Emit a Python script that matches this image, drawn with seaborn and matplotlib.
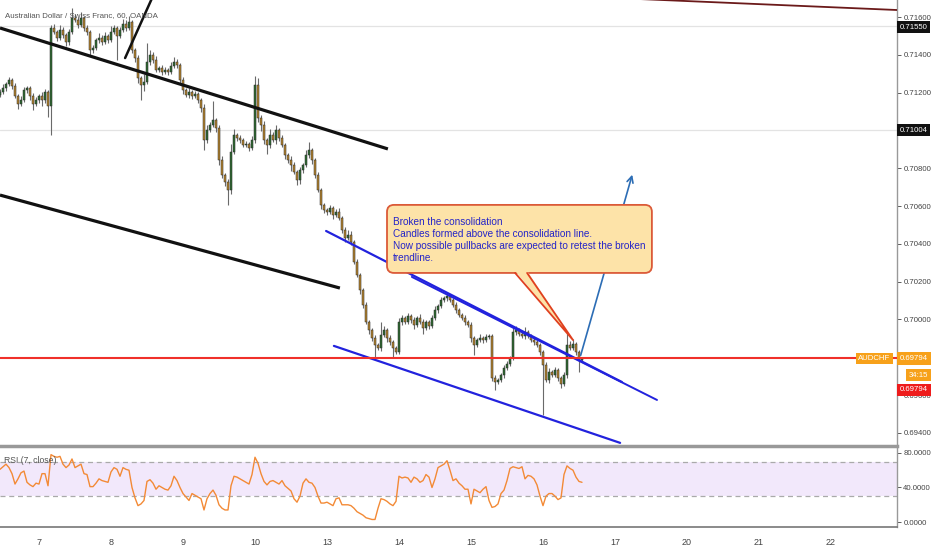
import numpy as np
import pandas as pd
import matplotlib
matplotlib.use("Agg")
import matplotlib.pyplot as plt
import matplotlib.transforms as mtransforms
from matplotlib.patches import FancyBboxPatch, Polygon
import seaborn as sns

sns.set_theme(style="white")
plt.rcParams["font.family"] = ["Liberation Sans", "DejaVu Sans"]

# AUDCHF 60 min, prices in points (1e-5), one row per hour, first bar 13h before the 7th
first_bar = -13
first_open = 71190
closes = [
    71203, 71224, 71246, 71267, 71235, 71182, 71140, 71161, 71214, 71224, 71182, 71140, 71161,
    # 7
    71182, 71161, 71203, 71129, 71542, 71521, 71489, 71531, 71505, 71468, 71521, 71595,
    71584, 71558, 71595, 71542, 71521, 71425, 71436, 71478, 71489, 71468, 71500, 71478,
    # 8
    71521, 71542, 71500, 71531, 71563, 71542, 71574, 71425, 71383, 71277, 71240, 71256,
    71362, 71399, 71373, 71320, 71330, 71309, 71320, 71309, 71341, 71362, 71346, 71267,
    # 9
    71214, 71187, 71203, 71182, 71193, 71161, 71119, 70949, 71002, 71029, 71055, 71013,
    70844, 70764, 70727, 70685, 70886, 70976, 70960, 70949, 70923, 70928, 70907, 70949,
    # 10
    71240, 71066, 71029, 70949, 70923, 70976, 70949, 71002, 70960, 70923, 70870, 70844,
    70817, 70780, 70738, 70791, 70817, 70870, 70896, 70844, 70764, 70685, 70606, 70579,
    # 13
    70569, 70590, 70553, 70569, 70537, 70473, 70431, 70447, 70410, 70304, 70235, 70156,
    70077, 69987, 69944, 69902, 69865, 69849, 69918, 69944, 69902, 69881, 69849, 69828,
    # 14
    69987, 70008, 69987, 70018, 69997, 69971, 70008, 69987, 69955, 69987, 69965, 70008,
    70050, 70071, 70103, 70114, 70124, 70103, 70077, 70050, 70024, 70008, 69987, 69971,
    # 15
    69902, 69865, 69891, 69902, 69891, 69907, 69913, 69690, 69669, 69680, 69706, 69743,
    69764, 69796, 69934, 69944, 69923, 69913, 69934, 69913, 69891, 69881, 69865, 69828,
    # 16
    69759, 69680, 69722, 69706, 69733, 69690, 69659, 69706, 69865, 69849, 69870, 69828,
    69786, 69794,
]
wick_up = [
    15, 20, 12, 18, 10, 14, 12, 20, 16, 10, 12, 15, 18,
    12, 20, 15, 10, 16, 20, 12, 25, 15, 10, 18, 53, 20, 15, 30, 12, 15, 10, 18, 12, 25, 15, 20, 12,
    30, 15, 12, 18, 25, 20, 30, 12, 10, 15, 10, 45, 100, 26, 15, 20, 12, 15, 18, 12, 20, 25, 15, 10,
    15, 12, 20, 10, 15, 12, 10, 20, 25, 15, 100, 12, 15, 20, 10, 15, 40, 30, 12, 15, 10, 15, 12, 20,
    48, 37, 15, 20, 12, 30, 15, 25, 12, 15, 10, 12, 20, 15, 10, 18, 12, 25, 43, 12, 10, 15, 12, 10,
    12, 18, 10, 15, 20, 12, 15, 25, 20, 12, 15, 10, 12, 15, 10, 12, 15, 10, 70, 20, 12, 15, 10, 12,
    20, 15, 12, 18, 10, 15, 12, 20, 15, 10, 12, 15, 20, 12, 15, 12, 16, 10, 12, 15, 10, 12, 15, 10,
    15, 12, 10, 20, 12, 15, 10, 12, 15, 10, 12, 18, 15, 10, 30, 20, 12, 15, 25, 10, 12, 15, 10, 12,
    10, 15, 20, 12, 15, 10, 12, 15, 64, 20, 25, 12, 10, 8,
]
wick_dn = [
    12, 10, 15, 10, 18, 12, 25, 10, 12, 15, 20, 30, 12,
    14, 30, 18, 60, 153, 10, 15, 12, 18, 20, 14, 10, 12, 15, 10, 18, 15, 25, 15, 12, 14, 18, 12, 15,
    12, 10, 130, 12, 10, 15, 12, 15, 20, 25, 79, 30, 12, 15, 18, 12, 10, 15, 12, 14, 10, 12, 15, 20,
    20, 12, 15, 18, 10, 15, 20, 53, 15, 12, 10, 20, 25, 15, 20, 79, 20, 12, 15, 14, 10, 12, 15, 10,
    15, 20, 30, 20, 50, 15, 12, 20, 15, 12, 20, 15, 30, 12, 27, 20, 15, 12, 15, 20, 15, 12, 20, 15,
    15, 12, 20, 10, 12, 15, 20, 12, 15, 10, 12, 20, 15, 12, 20, 15, 69, 12, 15, 10, 20, 15, 50, 12,
    12, 15, 10, 12, 15, 20, 12, 10, 30, 12, 15, 10, 12, 15, 10, 12, 15, 10, 12, 15, 10, 12, 15, 12,
    20, 53, 12, 10, 15, 12, 10, 15, 42, 12, 10, 15, 12, 10, 12, 15, 10, 12, 15, 10, 12, 15, 10, 15,
    264, 12, 15, 10, 12, 15, 22, 12, 15, 10, 12, 15, 64, 10,
]
rsi = [
    61, 64, 67, 63, 56, 44, 50, 57, 59, 46, 43, 41, 45,
    44, 56, 56, 42, 78, 76, 75, 76, 67, 63, 66, 73, 63, 65, 67, 56, 55, 41, 41, 45, 50, 48, 47, 46,
    58, 63, 61, 53, 63, 61, 60, 40, 28, 19, 21, 25, 47, 49, 45, 38, 42, 40, 38, 37, 42, 53, 48, 40,
    33, 29, 25, 33, 31, 29, 27, 14, 27, 33, 37, 31, 20, 16, 14, 14, 42, 53, 52, 50, 48, 46, 44, 55,
    75, 68, 56, 47, 43, 47, 48, 46, 44, 48, 42, 39, 36, 27, 23, 30, 45, 50, 46, 45, 40, 30, 22, 22,
    23, 21, 19, 27, 28, 20, 20, 20, 19, 16, 12, 10, 8, 5, 4, 3, 3, 16, 27, 26, 24, 21, 19, 24,
    53, 51, 52, 51, 46, 52, 50, 46, 48, 55, 52, 40, 50, 63, 65, 67, 71, 60, 48, 50, 45, 42, 38, 38,
    21, 38, 36, 34, 38, 41, 25, 17, 18, 21, 33, 37, 48, 62, 64, 63, 62, 64, 50, 54, 53, 50, 43, 30,
    19, 30, 33, 33, 30, 26, 28, 55, 65, 62, 60, 52, 47, 46,
]
day_labels = ["7", "8", "9", "10", "13", "14", "15", "16", "17", "20", "21", "22"]
price_ticks = [0.694, 0.696, 0.698, 0.700, 0.702, 0.704, 0.706, 0.708, 0.710, 0.712, 0.714, 0.716]
hidden_ticks = [0.698, 0.710]  # covered by the price tags
rsi_ticks = [0, 40, 80]
last_price = 0.69794
marked_levels = [0.71550, 0.71004]
note_lines = [
    "Broken the consolidation",
    "Candles formed above the consolidation line.",
    "Now possible pullbacks are expected to retest the broken",
    "trendline.",
]

df = pd.DataFrame({"close": np.array(closes) / 1e5, "rsi": rsi})
df["bar"] = np.arange(len(df)) + first_bar
df["open"] = df["close"].shift(1).fillna(first_open / 1e5)
df["top"] = df[["open", "close"]].max(axis=1)
df["bot"] = df[["open", "close"]].min(axis=1)
df["high"] = df["top"] + np.array(wick_up) / 1e5
df["low"] = df["bot"] - np.array(wick_dn) / 1e5
df["up"] = df["close"] >= df["open"]

fig = plt.figure(figsize=(9.32, 5.5), dpi=100)
ax = fig.add_axes([0, 106 / 550, 897 / 932, 444 / 550])
ax2 = fig.add_axes([0, 23 / 550, 897 / 932, 81 / 550], sharex=ax)

XLIM = (-13, 286)
YLIM = (0.69341, 0.71690)

for lvl in marked_levels:
    ax.axhline(lvl, color="#e3e3e3", lw=0.9, zorder=0)

# candles
ax.vlines(df["bar"], df["low"], df["high"], color="#6a6a6a", lw=0.8, zorder=2)
body_col = np.where(df["up"], "#2f6a31", "#b5842e")
ax.bar(df["bar"], np.maximum(df["top"] - df["bot"], 0.00002), bottom=df["bot"], width=0.8,
       color=body_col, edgecolor="#2a2a2a", linewidth=0.35, zorder=3)

# drawn lines
ax.plot([-13, 116.3], [0.71542, 0.70902], color="#111111", lw=2.3, zorder=4, solid_capstyle="butt")
ax.plot([-13, 100.3], [0.70658, 0.70166], color="#111111", lw=2.3, zorder=4, solid_capstyle="butt")
ax.plot([28.7, 38.9], [0.71383, 0.71743], color="#111111", lw=1.8, zorder=4)
ax.plot([200.3, 286], [0.71695, 0.71637], color="#6b1a1a", lw=1.3, zorder=4)
ax.plot([95.7, 194.3], [0.70468, 0.69669], color="#2222dd", lw=1.6, zorder=4)
ax.plot([124.3, 206], [0.70225, 0.69574], color="#2222dd", lw=1.4, zorder=4)
ax.plot([98.3, 193.7], [0.69860, 0.69347], color="#2222dd", lw=1.6, zorder=4)
ax.axhline(last_price, color="#f0302a", lw=1.5, zorder=4)
ax.annotate("", xy=(198, 0.70780), xytext=(180.3, 0.69796),
            arrowprops=dict(arrowstyle="->", color="#2c6db5", lw=1.2, mutation_scale=11), zorder=5)

ax.set_xlim(*XLIM)
ax.set_ylim(*YLIM)
ax.autoscale(False)

# callout
ident = mtransforms.IdentityTransform()
px = ax.transData.transform
(bx0, by0), (bx1, by1) = px((116, 0.70246)), px((204.3, 0.70606))
ax.add_patch(FancyBboxPatch((bx0, by0), bx1 - bx0, by1 - by0, boxstyle="round,pad=0,rounding_size=7",
                            transform=ident, fc="#fde3a8", ec="#db5a38", lw=1.3, zorder=6))
(t0x, t0y), (t1x, t1y), (tpx, tpy) = px((158.7, 0.70246)), px((162.7, 0.70246)), px((178, 0.69891))
ax.add_patch(Polygon([(t0x, t0y + 2), (t1x, t1y + 2), (tpx, tpy)], closed=True, transform=ident,
                     fc="#fde3a8", ec="none", zorder=7))
ax.plot([t0x, tpx, t1x], [t0y, tpy, t1y], transform=ident, color="#e0401f", lw=1.3, zorder=7)
ax.text(118, 0.70540, "\n".join(note_lines), color="#2424c8", fontsize=7.2, va="top", ha="left",
        linespacing=1.22, zorder=8)

ax.text(0.0056, 0.966, "Australian Dollar / Swiss Franc, 60, OANDA", transform=ax.transAxes,
        fontsize=5.7, color="#555555", va="center", ha="left", zorder=9)

# price scale
ax.yaxis.tick_right()
ax.set_yticks(price_ticks)
ax.set_yticklabels(["" if p in hidden_ticks else f"{p:.5f}" for p in price_ticks])
ax.tick_params(axis="y", labelsize=5.6, colors="#444444", length=3, pad=1.5, width=0.6)
ax.tick_params(axis="x", bottom=False, labelbottom=False)
for s in ["top", "left", "bottom"]:
    ax.spines[s].set_visible(False)
ax.spines["right"].set_color("#999999")
ax.spines["right"].set_linewidth(1)

yax = ax.get_yaxis_transform()


def tag(y, text, fc, x=1.003, ha="left", size=5.6, pad=0.35):
    ax.text(x, y, text, transform=yax, fontsize=size, color="white", ha=ha, va="center",
            bbox=dict(boxstyle=f"square,pad={pad}", fc=fc, ec="none"), clip_on=False, zorder=12)


tag(0.71547, "0.71550", "#111111")
tag(0.71002, "0.71004", "#111111")
tag(last_price, "0.69794", "#f7a11a")
tag(0.69706, "34:15", "#f7a11a", x=1.013)
tag(0.69627, "0.69794", "#ee1c1c")
tag(last_price, "AUDCHF", "#f7a11a", x=0.993, ha="right", size=5.6, pad=0.3)

# RSI pane
ax2.axhspan(30, 70, color="#f2e8fb", lw=0, zorder=0)
for lv in (70, 30):
    ax2.axhline(lv, color="#aaaaaa", lw=0.9, ls=(0, (4, 3)), zorder=1)
sns.lineplot(data=df, x="bar", y="rsi", ax=ax2, color="#f38a36", lw=1.0, zorder=3)
ax2.text(-11.5, 71, "RSI (7, close)", fontsize=6.2, color="#555555", va="center", ha="left")
ax2.set_ylim(-5.7, 88)
ax2.set_xlim(*XLIM)
ax2.yaxis.tick_right()
ax2.set_yticks(rsi_ticks)
ax2.set_yticklabels([f"{v:.4f}" for v in rsi_ticks])
ax2.set_xticks(np.arange(len(day_labels)) * 24)
ax2.set_xticklabels(day_labels)
ax2.tick_params(axis="y", labelsize=5.6, colors="#444444", length=3, pad=1.5, width=0.6)
ax2.tick_params(axis="x", labelsize=6.5, colors="#444444", length=3, pad=5, width=0.6)
ax2.set_xlabel("")
ax2.set_ylabel("")
ax2.spines["left"].set_visible(False)
ax2.spines["top"].set_color("#999999")
ax2.spines["top"].set_linewidth(2.5)
ax2.spines["bottom"].set_color("#777777")
ax2.spines["bottom"].set_linewidth(1.2)
ax2.spines["right"].set_color("#999999")
ax2.spines["right"].set_linewidth(1)

fig.savefig("out.png", dpi=100)
